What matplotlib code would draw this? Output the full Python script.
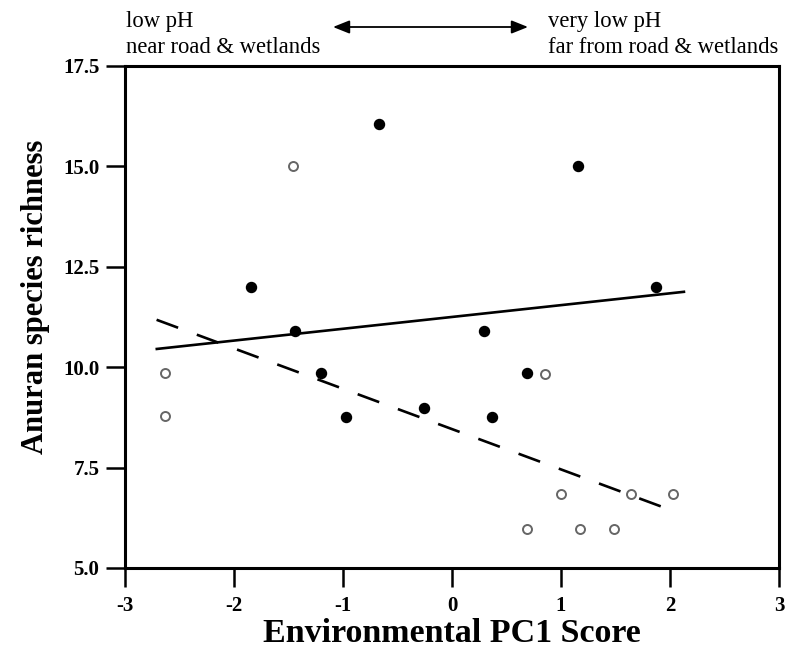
import matplotlib
matplotlib.use('Agg')
import matplotlib.pyplot as plt
import numpy as np

plt.rcParams['font.family'] = ['Liberation Serif', 'DejaVu Serif']

# sites with filled symbols
filled_x = [-1.84, -1.44, -1.20, -0.97, -0.26, -0.67, 0.29, 0.37, 0.69, 1.16, 1.87]
filled_y = [12.0, 10.9, 9.85, 8.77, 8.98, 16.05, 10.9, 8.77, 9.85, 15.0, 12.0]

# sites with open symbols
open_x = [-1.46, -2.63, -2.63, 0.85, 1.00, 1.64, 2.03, 0.69, 1.17, 1.49]
open_y = [15.0, 9.85, 8.78, 9.83, 6.84, 6.84, 6.84, 5.97, 5.97, 5.97]

# regression lines (end points)
solid_x = [-2.72, 2.14]
solid_y = [10.45, 11.88]
dash_x = [-2.71, 1.92]
dash_y = [11.18, 6.53]

xticks = [-3, -2, -1, 0, 1, 2, 3]
yticks = [5.0, 7.5, 10.0, 12.5, 15.0, 17.5]

fig = plt.figure(figsize=(7.89, 6.5), dpi=100)
ax = fig.add_axes([0.1584, 0.1262, 0.8289, 0.7723])

ax.plot(solid_x, solid_y, color='black', lw=1.9, solid_capstyle='butt')
ax.plot(dash_x, dash_y, color='black', lw=1.9, dashes=(8.7, 7.55), dash_capstyle='butt')

ax.scatter(filled_x, filled_y, s=52, color='black', zorder=3)
ax.scatter(open_x, open_y, s=42, facecolor='white', edgecolor='#666666', linewidths=1.4, zorder=3)

ax.set_xlim(-3, 3)
ax.set_ylim(5.0, 17.5)
ax.set_xticks(xticks)
ax.set_xticklabels([str(t) for t in xticks])
ax.set_yticks(yticks)
ax.set_yticklabels(['%.1f' % t for t in yticks])
ax.tick_params(axis='both', direction='out', length=13.5, width=1.8, labelsize=15)
ax.tick_params(axis='y', pad=5)
ax.tick_params(axis='x', pad=7)
for lab in ax.get_xticklabels() + ax.get_yticklabels():
    lab.set_fontweight('bold')
for sp in ax.spines.values():
    sp.set_linewidth(2.2)

ax.set_xlabel('Environmental PC1 Score', fontsize=24.5, fontweight='bold', labelpad=1)
ax.set_ylabel('Anuran species richness', fontsize=22, fontweight='bold', labelpad=8)
ax.yaxis.set_label_coords(-0.115, 0.54)

# gradient annotation above the plot
fig.text(126 / 789, 1 - 27 / 650, 'low pH', fontsize=16.3, va='baseline', ha='left')
fig.text(126 / 789, 1 - 53 / 650, 'near road & wetlands', fontsize=16.3, va='baseline', ha='left')
fig.text(548 / 789, 1 - 27 / 650, 'very low pH', fontsize=16.3, va='baseline', ha='left')
fig.text(548 / 789, 1 - 53 / 650, 'far from road & wetlands', fontsize=16.3, va='baseline', ha='left')
fig.add_artist(matplotlib.patches.FancyArrowPatch(
    (333 / 789, 1 - 27 / 650), (528 / 789, 1 - 27 / 650),
    transform=fig.transFigure, arrowstyle='<|-|>,head_length=10,head_width=4',
    color='black', lw=1.3, shrinkA=0, shrinkB=0))

plt.savefig('out.png', dpi=100)
plt.close()
